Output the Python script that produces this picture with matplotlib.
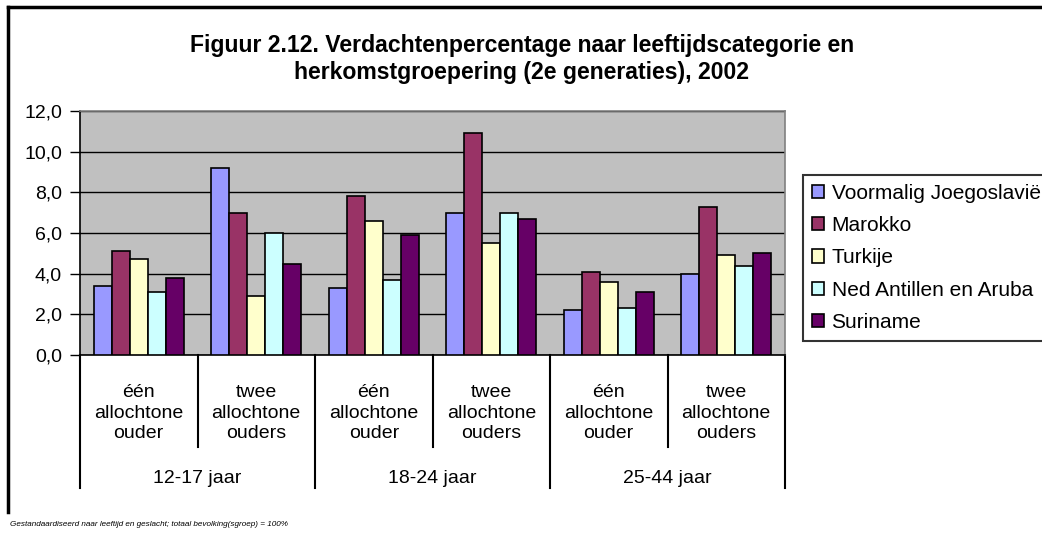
import matplotlib.pyplot as plt
from matplotlib.patches import Patch
from matplotlib.lines import Line2D
from matplotlib.ticker import FuncFormatter, MultipleLocator
import numpy as np

plt.rcParams['font.family'] = ['Liberation Sans', 'DejaVu Sans']

# data
sub_labels = ["één\nallochtone\nouder", "twee\nallochtone\nouders"] * 3
age_labels = ["12-17 jaar", "18-24 jaar", "25-44 jaar"]
series = ["Voormalig Joegoslavië", "Marokko", "Turkije",
          "Ned Antillen en Aruba", "Suriname"]
joegoslavie = [3.4, 9.2, 3.3, 7.0, 2.2, 4.0]
marokko = [5.1, 7.0, 7.8, 10.9, 4.1, 7.3]
turkije = [4.7, 2.9, 6.6, 5.5, 3.6, 4.9]
antillen = [3.1, 6.0, 3.7, 7.0, 2.3, 4.4]
suriname = [3.8, 4.5, 5.9, 6.7, 3.1, 5.0]
values = [joegoslavie, marokko, turkije, antillen, suriname]
colors = ["#9999FF", "#993366", "#FFFFCC", "#CCFFFF", "#660066"]

fig = plt.figure(figsize=(10.42, 5.37), dpi=100)
ax = fig.add_axes([80 / 1042, 1 - 355 / 537, 705 / 1042, 244 / 537])
ax.set_facecolor("#C0C0C0")

x = np.arange(len(sub_labels))
w = 1 / 6.5
for i, (name, vals) in enumerate(zip(series, values)):
    ax.bar(x + (i - 2) * w, vals, width=w, color=colors[i],
           edgecolor="black", linewidth=1.2, label=name, zorder=3)

ax.set_xlim(-0.5, 5.5)
ax.set_ylim(0, 12)
ax.yaxis.set_major_locator(MultipleLocator(2))
ax.yaxis.set_major_formatter(FuncFormatter(lambda v, p: f"{v:.1f}".replace(".", ",")))
ax.grid(axis="y", color="black", linewidth=1, zorder=1)
ax.set_axisbelow(True)
ax.tick_params(axis="y", direction="out", length=7, width=1, labelsize=14, pad=6)
ax.set_xticks([])

ax.spines["left"].set_color("black")
ax.spines["bottom"].set_color("black")
ax.spines["top"].set_color("#808080")
ax.spines["right"].set_color("#808080")
for s in ax.spines.values():
    s.set_linewidth(1.2)

# category axis: separators and labels
trans = ax.get_xaxis_transform()
for b in np.arange(-0.5, 6, 1):
    outer = int(round(b + 0.5)) % 2 == 0
    ybot = -0.545 if outer else -0.377
    ax.plot([b, b], [0, ybot], color="black", lw=1.5, transform=trans, clip_on=False)
for xi, lab in zip(x, sub_labels):
    ax.text(xi, -0.238, lab, transform=trans, ha="center", va="center",
            fontsize=14, linespacing=1.25)
for k, lab in enumerate(age_labels):
    ax.text(2 * k + 0.5, -0.505, lab, transform=trans, ha="center", va="center",
            fontsize=14)

fig.text(522 / 1042, 1 - 59 / 537,
         "Figuur 2.12. Verdachtenpercentage naar leeftijdscategorie en\n"
         "herkomstgroepering (2e generaties), 2002",
         ha="center", va="center", fontsize=16.6, fontweight="bold", linespacing=1.25)

handles = [Patch(facecolor=c, edgecolor="black", linewidth=1.2) for c in colors]
leg = fig.legend(handles, series, loc="upper left",
                 bbox_to_anchor=(803 / 1042, 1 - 175 / 537), fontsize=15,
                 frameon=True, fancybox=False, edgecolor="black",
                 handlelength=0.6, handleheight=0.6, handletextpad=0.35,
                 labelspacing=0.64, borderpad=0.42, borderaxespad=0)
leg.get_frame().set_linewidth(1.5)

# outer chart border (top and left only visible)
fig.add_artist(Line2D([8 / 1042, 1.0], [1 - 7 / 537, 1 - 7 / 537], color="black", lw=2.5))
fig.add_artist(Line2D([8 / 1042, 8 / 1042], [1 - 7 / 537, 1 - 512 / 537], color="black", lw=2.5))

fig.text(10 / 1042, 1 - 525 / 537,
         "Gestandaardiseerd naar leeftijd en geslacht; totaal bevolking(sgroep) = 100%",
         ha="left", va="center", fontsize=5.9, style="italic")

fig.savefig("out.png", dpi=100)
